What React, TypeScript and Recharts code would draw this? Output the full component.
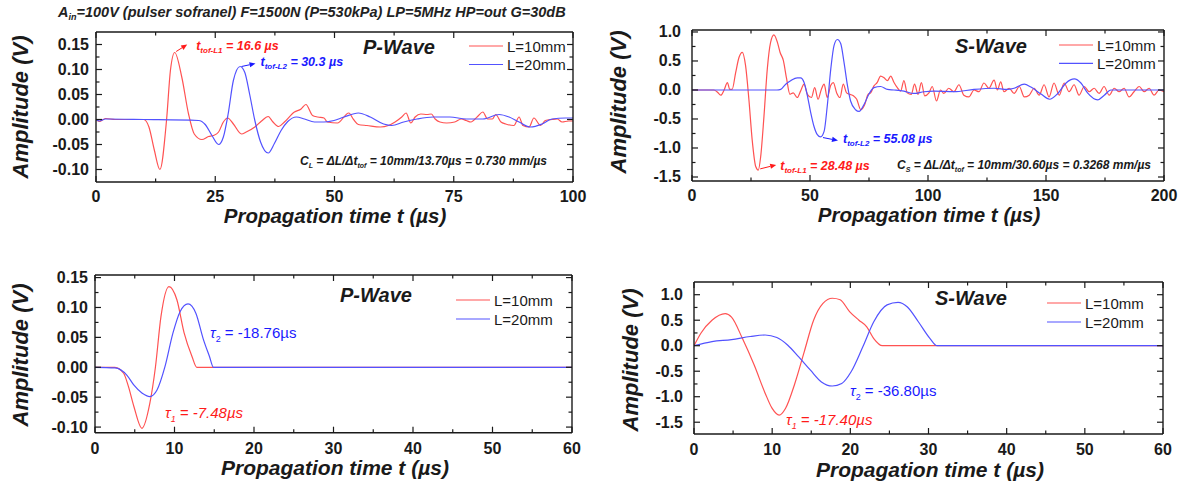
import React from 'react';
import { LineChart, Line, XAxis, YAxis, ReferenceDot } from 'recharts';

type Pt = [number, number];

// --- P-wave, measured signals (0-100 µs) ---
const pMeas10: Pt[] = [
  [0, 0], [0.7, -0.004], [2, 0.002], [4, 0], [10, 0], [11.1, -0.015], [12.2, -0.06], [13.4, -0.1],
  [14.8, 0], [15.6, 0.098], [16.5, 0.134], [18, 0.084], [19.4, 0.011], [20.6, -0.029], [22.2, -0.04],
  [23.6, -0.034], [24.6, -0.032], [25.7, -0.025], [26.7, -0.005], [27.6, 0.003], [28.8, -0.009],
  [30.5, -0.029], [31.5, -0.025], [33.3, -0.015], [34.7, -0.003], [36.1, 0.006], [37.1, -0.005],
  [38.3, -0.014], [39.5, -0.005], [41.6, 0.015], [43, 0.021], [44, 0.03], [45.4, 0.008], [46.5, 0.005],
  [47.8, 0.003], [48.5, -0.005], [50.6, -0.007], [53, 0.013], [54, 0], [55, -0.01], [56.8, -0.012],
  [59.6, -0.015], [61.3, -0.012], [62.7, -0.005], [64.1, 0.005], [65, 0.013], [66, -0.007], [66.9, 0.005],
  [68.1, 0.011], [69.4, 0.01], [70.3, 0.011], [71.1, 0.001], [72.1, -0.005], [73.5, -0.007], [75.2, -0.005],
  [76.6, 0.001], [77.6, -0.002], [78.6, -0.005], [80, 0.006], [81.1, 0.015], [82.1, 0.001], [83.1, 0.001],
  [83.8, 0.01], [84.9, -0.005], [85.9, -0.009], [87.6, -0.012], [88.7, 0.005], [89.5, -0.012], [90.8, -0.015],
  [91.8, 0.003], [93.2, -0.012], [94.2, -0.002], [95.6, 0], [96.7, 0.001], [97.7, -0.005], [99.1, -0.003],
  [100, -0.003],
];
const pMeas20: Pt[] = [
  [0, 0], [0.7, -0.003], [2, 0.001], [10, 0], [21.5, -0.002], [22.9, -0.01], [24.3, -0.032], [25.7, -0.05],
  [26.7, -0.035], [27.7, 0.011], [28.8, 0.078], [30.2, 0.106], [31.2, 0.094], [32.2, 0.051], [33.3, -0.002],
  [34.5, -0.045], [36.1, -0.067], [37.4, -0.048], [38.8, -0.022], [40.2, -0.004], [42, 0.005], [43.7, 0.001],
  [45.8, -0.005], [47.8, -0.005], [49.9, -0.002], [52, 0.005], [55, 0.013], [57.5, 0.005], [60.3, -0.009],
  [62, -0.012], [64.5, -0.005], [67.3, 0.001], [70.7, 0.005], [74.2, 0.005], [77.6, 0.001], [81.1, 0.001],
  [84.5, 0.01], [86.6, 0.005], [88.7, -0.005], [91.1, -0.015], [93.5, -0.009], [95.6, 0.001], [98.4, 0.003],
  [100, 0.003],
];

// --- S-wave, measured signals (0-200 µs) ---
const sMeas10: Pt[] = [
  [0, 0], [9.3, 0], [10.7, -0.035], [12.2, -0.09], [13.6, 0], [15, 0.128], [16, 0.01], [17, 0.01],
  [18.5, 0.3], [19.9, 0.56], [21.3, 0.65], [22.7, 0.42], [24.1, -0.16], [25.5, -0.86], [27, -1.32],
  [28.1, -1.38], [29.1, -1.15], [30.5, -0.45], [31.9, 0.36], [33.3, 0.82], [34.7, 0.95], [36.2, 0.82],
  [37.3, 0.65], [38.7, 0.51], [40.1, 0.19], [41.5, -0.075], [42.9, -0.05], [44.6, -0.13], [46, -0.02],
  [47.5, 0.1], [48.9, -0.075], [50.6, -0.13], [52, 0.04], [53.4, -0.16], [54.8, 0.01], [56, 0.1],
  [57.3, -0.13], [58.8, 0.08], [59.9, 0.128], [61.3, -0.05], [62.7, -0.13], [64.1, 0.1], [65.5, -0.05],
  [66.9, -0.075], [68.4, -0.1], [69.8, -0.16], [71.5, -0.34], [73.2, -0.25], [74.6, -0.075], [75.7, -0.05],
  [77.1, 0.07], [78.5, 0.13], [79.9, 0.24], [81.4, 0.21], [82.8, 0.16], [84.2, 0.24], [85.6, 0.13],
  [87, 0.04], [88.4, -0.02], [89.8, 0.16], [91.2, -0.05], [92.9, -0.075], [94.3, 0.1], [95.8, -0.075],
  [97.2, 0.128], [98.6, -0.1], [100.4, -0.05], [101.8, 0.06], [103.6, -0.19], [105.3, 0], [106.7, -0.06],
  [108.8, 0.03], [111, -0.03], [113.1, 0.09], [115.2, -0.09], [117.3, -0.12], [119.5, 0], [121.6, -0.03],
  [123.7, 0.12], [125.8, 0.03], [128, 0.17], [129.4, 0], [130.8, 0.14], [132.2, -0.03], [134.4, 0.03],
  [136.5, -0.06], [138.7, 0.06], [140.8, -0.12], [142.9, -0.09], [145, 0.03], [147.1, -0.09], [149.2, 0.09],
  [151.3, -0.12], [153.4, 0.12], [155.6, -0.09], [157.7, 0.12], [159.8, -0.03], [161.9, 0.09], [164, -0.09],
  [166.2, 0.06], [168.3, -0.03], [170.4, 0.03], [172.5, -0.06], [174.6, 0.06], [176.8, -0.09], [178.9, 0.03],
  [181, -0.03], [183.1, 0.03], [185.2, -0.12], [187.3, -0.03], [189.5, 0.06], [191.6, -0.03], [193.7, 0.03],
  [195.8, -0.09], [197.9, 0], [200, -0.03],
];
const sMeas20: Pt[] = [
  [0, 0], [36, 0], [37.6, 0.01], [39.7, 0.1], [41.8, 0.16], [44.6, 0.21], [46, 0.21], [47.5, 0.13],
  [48.9, -0.1], [50.3, -0.39], [51.7, -0.63], [53.1, -0.77], [54.5, -0.81], [56, -0.71], [57.3, -0.28],
  [58.8, 0.36], [60.2, 0.77], [61.6, 0.87], [63, 0.8], [64.4, 0.48], [65.9, 0.07], [67.2, -0.19],
  [69.3, -0.34], [70.8, -0.37], [72.9, -0.25], [75, -0.07], [77.1, 0.04], [79.9, 0.06], [82.8, 0.01],
  [85.6, 0], [89.8, -0.02], [94, -0.06], [98.3, -0.03], [102.5, -0.02], [111, -0.03], [119.5, 0.01],
  [128, 0.03], [133.6, 0.01], [136.5, 0.03], [140.8, 0.1], [143.6, 0.05], [147.9, -0.07], [151.5, -0.16],
  [155, -0.06], [158.5, 0.12], [162, 0.19], [164.8, 0.12], [167.6, -0.05], [171.9, -0.17], [174.7, -0.09],
  [177.5, 0], [183.1, 0], [190.2, 0], [200, 0],
];

// --- modelled pulses (0-60 µs) ---
const pModel10: Pt[] = [
  [0, 0], [2.5, 0], [3.6, -0.01], [4.2, -0.032], [4.9, -0.066], [5.9, -0.102], [6.9, -0.06], [7.6, 0],
  [8.3, 0.085], [9.3, 0.135], [10.3, 0.113], [11.2, 0.058], [12.2, 0.018], [12.8, 0], [60, 0],
];
const pModel20: Pt[] = [
  [0, 0], [2.5, -0.001], [4, -0.013], [4.9, -0.03], [5.9, -0.043], [6.9, -0.049], [7.8, -0.038],
  [8.8, 0.001], [9.8, 0.057], [10.7, 0.093], [11.7, 0.106], [12.7, 0.09], [13.6, 0.048], [14.4, 0.018],
  [14.9, 0], [60, 0],
];
const sModel10: Pt[] = [
  [0, 0], [0.9, 0.25], [2.3, 0.5], [4, 0.63], [4.8, 0.56], [6.2, 0.14], [7.7, -0.38], [9.1, -0.93],
  [10, -1.23], [10.9, -1.36], [11.7, -1.23], [12.9, -0.74], [14.1, -0.12], [15.3, 0.5], [16.5, 0.83],
  [17.7, 0.93], [18.7, 0.9], [19.9, 0.67], [21.1, 0.5], [22.1, 0.37], [23, 0.14], [24.1, 0], [60, 0],
];
const sModel20: Pt[] = [
  [0, 0], [2.3, 0.08], [4.8, 0.12], [7.2, 0.18], [9.1, 0.21], [10.6, 0.16], [12, 0.01], [13.4, -0.22],
  [14.9, -0.48], [16.3, -0.71], [17.7, -0.79], [18.9, -0.74], [20.1, -0.51], [21.6, -0.02], [23, 0.47],
  [24.7, 0.8], [26.1, 0.85], [27.3, 0.76], [28.7, 0.47], [30.2, 0.14], [31.1, 0], [60, 0],
];

// tick values
const x100Major = [0, 25, 50, 75, 100];
const x100Minor = [12.5, 37.5, 62.5, 87.5];
const x200Major = [0, 50, 100, 150, 200];
const x200Minor = [25, 75, 125, 175];
const x60Major = [0, 10, 20, 30, 40, 50, 60];
const x60Minor = [5, 15, 25, 35, 45, 55];
const yPMajor = [-0.1, -0.05, 0, 0.05, 0.1, 0.15];
const yPMinor = [-0.075, -0.025, 0.025, 0.075, 0.125];
const ySMajor = [-1.5, -1, -0.5, 0, 0.5, 1];
const ySMinor = [-1.25, -0.75, -0.25, 0.25, 0.75];

const legendNames = ['L=10mm', 'L=20mm'];

const FONT = '"Liberation Sans", Arial, sans-serif';
const RED = '#ff5252';
const BLUE = '#5252ff';
const RED_TXT = '#ff1a1a';
const BLUE_TXT = '#1a1aff';
const INK = '#1a1a1a';

const toRows = (pts: Pt[]) => pts.map(([t, v]) => ({ t, v }));

type Side = 'bottom' | 'top' | 'left' | 'right';

// inward tick marks (major/minor) plus the label for majors
const makeTick = (side: Side, majors: number[], digits: number, labelOffset = 0) => (props: any) => {
  const { x, y, payload } = props;
  const v = payload.value as number;
  const major = majors.some((m) => Math.abs(m - v) < 1e-9);
  const len = major ? 6 : 3.5;
  let line: React.ReactNode = null;
  if (side === 'bottom') line = <line x1={x} x2={x} y1={y} y2={y - len} />;
  if (side === 'top') line = <line x1={x} x2={x} y1={y} y2={y + len} />;
  if (side === 'left') line = <line x1={x} x2={x + len} y1={y} y2={y} />;
  if (side === 'right') line = <line x1={x} x2={x - len} y1={y} y2={y} />;
  return (
    <g stroke={INK} strokeWidth={1.2}>
      {line}
      {major && side === 'bottom' && (
        <text x={x} y={y + labelOffset} textAnchor="middle" stroke="none" fill={INK}
          fontFamily={FONT} fontWeight="bold" fontSize={16}>{v.toFixed(digits)}</text>
      )}
      {major && side === 'left' && (
        <text x={x - labelOffset} y={y + 5.5} textAnchor="end" stroke="none" fill={INK}
          fontFamily={FONT} fontWeight="bold" fontSize={16}>{v.toFixed(digits)}</text>
      )}
    </g>
  );
};

const Arrow = ({ x1, y1, x2, y2, color }: { x1: number; y1: number; x2: number; y2: number; color: string }) => {
  const a = Math.atan2(y2 - y1, x2 - x1);
  const h = 6;
  const w = 2.6;
  const bx = x2 - h * Math.cos(a);
  const by = y2 - h * Math.sin(a);
  const px = -Math.sin(a) * w;
  const py = Math.cos(a) * w;
  return (
    <g>
      <line x1={x1} y1={y1} x2={bx} y2={by} stroke={color} strokeWidth={1} />
      <polygon points={`${x2},${y2} ${bx + px},${by + py} ${bx - px},${by - py}`} fill={color} />
    </g>
  );
};

interface TofOpts {
  ax: number; ay: number; bx: number; by: number; tx: number; ty: number;
  color: string; sub: string; value: string;
}

const tofShape = (o: TofOpts) => (props: any) => {
  const { cx, cy } = props;
  return (
    <g>
      <Arrow x1={cx + o.ax} y1={cy + o.ay} x2={cx + o.bx} y2={cy + o.by} color={o.color} />
      <text x={cx + o.tx} y={cy + o.ty} fill={o.color} fontFamily={FONT} fontWeight="bold"
        fontStyle="italic" fontSize={12.5}>
        t<tspan fontSize={8} dy={3}>{o.sub}</tspan><tspan dy={-3}>{' = ' + o.value}</tspan>
      </text>
    </g>
  );
};

interface PanelProps {
  left: number; top: number; width: number; height: number;
  // plot box edges, in the panel's own pixels
  box: { top: number; right: number; bottom: number; left: number };
  xDomain: [number, number]; yDomain: [number, number];
  xMajor: number[]; xMinor: number[]; yMajor: number[]; yMinor: number[];
  yDigits: number; xLabelOffset: number; yLabelGap: number;
  red: Pt[]; blue: Pt[];
  title: string; titleX: number; titleY: number;
  legendX: number; legendY: [number, number];
  yTitleX: number; yTitleY: number; xTitleX: number; xTitleY: number; xTitleSize: number;
  children?: React.ReactNode;
}

const axisLine = { stroke: INK, strokeWidth: 1.4 };

function Panel(p: PanelProps) {
  const xt = [...p.xMajor, ...p.xMinor].sort((a, b) => a - b);
  const yt = [...p.yMajor, ...p.yMinor].sort((a, b) => a - b);
  // each axis takes 1px, so the margins are the plot box minus that pixel
  const margin = {
    top: p.box.top - 1,
    bottom: p.height - p.box.bottom - 1,
    left: p.box.left - 1,
    right: p.width - p.box.right - 1,
  };
  return (
    <div style={{ position: 'absolute', left: p.left, top: p.top }}>
      <LineChart width={p.width} height={p.height} margin={margin}>
        <XAxis xAxisId="b" dataKey="t" type="number" domain={p.xDomain} allowDataOverflow ticks={xt}
          interval={0} height={1} tickSize={0} tickMargin={0} tickLine={false} axisLine={axisLine}
          tick={makeTick('bottom', p.xMajor, 0, p.xLabelOffset)} />
        <XAxis xAxisId="t" orientation="top" dataKey="t" type="number" domain={p.xDomain} allowDataOverflow
          ticks={xt} interval={0} height={1} tickSize={0} tickMargin={0} tickLine={false} axisLine={axisLine}
          tick={makeTick('top', p.xMajor, 0)} />
        <YAxis yAxisId="l" type="number" domain={p.yDomain} allowDataOverflow ticks={yt} interval={0}
          width={1} tickSize={0} tickMargin={0} tickLine={false} axisLine={axisLine}
          tick={makeTick('left', p.yMajor, p.yDigits, p.yLabelGap)} />
        <YAxis yAxisId="r" orientation="right" type="number" domain={p.yDomain} allowDataOverflow ticks={yt}
          interval={0} width={1} tickSize={0} tickMargin={0} tickLine={false} axisLine={axisLine}
          tick={makeTick('right', p.yMajor, p.yDigits)} />
        <Line xAxisId="b" yAxisId="l" data={toRows(p.red)} dataKey="v" type="monotone" stroke={RED}
          strokeWidth={1.2} dot={false} isAnimationActive={false} />
        <Line xAxisId="b" yAxisId="l" data={toRows(p.blue)} dataKey="v" type="monotone" stroke={BLUE}
          strokeWidth={1.2} dot={false} isAnimationActive={false} />
        {p.children}
        <text x={p.titleX} y={p.titleY} fontFamily={FONT} fontWeight="bold" fontStyle="italic"
          fontSize={20} fill={INK}>{p.title}</text>
        {legendNames.map((name, i) => (
          <g key={name}>
            <line x1={p.legendX} x2={p.legendX + 34} y1={p.legendY[i]} y2={p.legendY[i]}
              stroke={i === 0 ? RED : BLUE} strokeWidth={1.2} />
            <text x={p.legendX + 38} y={p.legendY[i] + 5.5} fontFamily={FONT} fontSize={15}
              fill={INK}>{name}</text>
          </g>
        ))}
        <text x={p.yTitleX} y={p.yTitleY} transform={`rotate(-90 ${p.yTitleX} ${p.yTitleY})`}
          textAnchor="middle" dominantBaseline="central" fontFamily={FONT} fontWeight="bold"
          fontStyle="italic" fontSize={22} fill={INK}>Amplitude (V)</text>
        <text x={p.xTitleX} y={p.xTitleY} textAnchor="middle" fontFamily={FONT} fontWeight="bold"
          fontStyle="italic" fontSize={p.xTitleSize} fill={INK}>Propagation time t (µs)</text>
      </LineChart>
    </div>
  );
}

const noteStyle = { fontFamily: FONT, fontWeight: 'bold' as const, fontStyle: 'italic' as const, fontSize: 12 };

export default function App() {
  return (
    <div style={{ position: 'absolute', left: 0, top: 0, width: 1187, height: 488, background: '#fff' }}>
      <Panel left={0} top={0} width={593} height={240}
        box={{ top: 32, right: 573, bottom: 182, left: 96 }}
        xDomain={[0, 100]} yDomain={[-0.125, 0.175]}
        xMajor={x100Major} xMinor={x100Minor} yMajor={yPMajor} yMinor={yPMinor}
        yDigits={2} xLabelOffset={19.5} yLabelGap={7} red={pMeas10} blue={pMeas20}
        title="P-Wave" titleX={363} titleY={54} legendX={469} legendY={[46, 64.5]}
        yTitleX={20} yTitleY={107} xTitleX={335} xTitleY={222.5} xTitleSize={20.5}>
        <ReferenceDot xAxisId="b" yAxisId="l" x={16.6} y={0.134} r={0} isFront
          shape={tofShape({ ax: 1, ay: -1, bx: 12, by: -8, tx: 21, ty: -3, color: RED_TXT, sub: 'tof-L1', value: '16.6 µs' })} />
        <ReferenceDot xAxisId="b" yAxisId="l" x={30.3} y={0.106} r={0} isFront
          shape={tofShape({ ax: 1, ay: 0, bx: 15, by: -3, tx: 20, ty: -1, color: BLUE_TXT, sub: 'tof-L2', value: '30.3 µs' })} />
        <text x={58} y={17} fontFamily={FONT} fontWeight="bold" fontStyle="italic" fontSize={14.5} fill="#222">
          A<tspan fontSize={9} dy={3}>in</tspan><tspan dy={-3}>=100V (pulser sofranel) F=1500N (P=530kPa) LP=5MHz HP=out G=30dB</tspan>
        </text>
        <text x={300} y={165} {...noteStyle} fill={INK}>
          C<tspan fontSize={7} dy={3}>L</tspan><tspan dy={-3}> = ΔL/Δt</tspan><tspan fontSize={7} dy={3}>tof</tspan><tspan dy={-3}> = 10mm/13.70µs = 0.730 mm/µs</tspan>
        </text>
      </Panel>

      <Panel left={593} top={0} width={594} height={240}
        box={{ top: 30, right: 571, bottom: 181, left: 99 }}
        xDomain={[0, 200]} yDomain={[-1.569, 1.034]}
        xMajor={x200Major} xMinor={x200Minor} yMajor={ySMajor} yMinor={ySMinor}
        yDigits={1} xLabelOffset={19.5} yLabelGap={11} red={sMeas10} blue={sMeas20}
        title="S-Wave" titleX={362} titleY={53} legendX={466} legendY={[45, 63.3]}
        yTitleX={25} yTitleY={102} xTitleX={336} xTitleY={221.5} xTitleSize={20.5}>
        <ReferenceDot xAxisId="b" yAxisId="l" x={28.48} y={-1.36} r={0} isFront
          shape={tofShape({ ax: 1, ay: 0, bx: 17, by: -4, tx: 21, ty: 1, color: RED_TXT, sub: 'tof-L1', value: '28.48 µs' })} />
        <ReferenceDot xAxisId="b" yAxisId="l" x={55.08} y={-0.82} r={0} isFront
          shape={tofShape({ ax: 1, ay: 0, bx: 16, by: 3, tx: 21, ty: 5, color: BLUE_TXT, sub: 'tof-L2', value: '55.08 µs' })} />
        <text x={304} y={169} {...noteStyle} fill={INK}>
          C<tspan fontSize={7} dy={3}>S</tspan><tspan dy={-3}> = ΔL/Δt</tspan><tspan fontSize={7} dy={3}>tof</tspan><tspan dy={-3}> = 10mm/30.60µs = 0.3268 mm/µs</tspan>
        </text>
      </Panel>

      <Panel left={0} top={240} width={593} height={248}
        box={{ top: 35, right: 572, bottom: 192.7, left: 95 }}
        xDomain={[0, 60]} yDomain={[-0.1094, 0.1543]}
        xMajor={x60Major} xMinor={x60Minor} yMajor={yPMajor} yMinor={yPMinor}
        yDigits={2} xLabelOffset={21} yLabelGap={7} red={pModel10} blue={pModel20}
        title="P-Wave" titleX={340} titleY={62} legendX={456} legendY={[60, 79]}
        yTitleX={20} yTitleY={115} xTitleX={335} xTitleY={235} xTitleSize={21}>
        <text x={210} y={98} fontFamily={FONT} fontSize={15} fill={BLUE_TXT}>
          <tspan fontStyle="italic">τ</tspan><tspan fontSize={9} dy={4}>2</tspan><tspan dy={-4}> = -18.76µs</tspan>
        </text>
        <text x={165} y={178} fontFamily={FONT} fontStyle="italic" fontSize={15} fill={RED_TXT}>
          τ<tspan fontSize={9} dy={4}>1</tspan><tspan dy={-4}> = -7.48µs</tspan>
        </text>
      </Panel>

      <Panel left={593} top={240} width={594} height={248}
        box={{ top: 42, right: 570, bottom: 194, left: 101 }}
        xDomain={[0, 60]} yDomain={[-1.731, 1.249]}
        xMajor={x60Major} xMinor={x60Minor} yMajor={ySMajor} yMinor={ySMinor}
        yDigits={1} xLabelOffset={21} yLabelGap={11} red={sModel10} blue={sModel20}
        title="S-Wave" titleX={342} titleY={65} legendX={454} legendY={[63, 82]}
        yTitleX={37} yTitleY={120} xTitleX={337} xTitleY={237} xTitleSize={21}>
        <text x={257} y={156} fontFamily={FONT} fontSize={15} fill={BLUE_TXT}>
          <tspan fontStyle="italic">τ</tspan><tspan fontSize={9} dy={4}>2</tspan><tspan dy={-4}> = -36.80µs</tspan>
        </text>
        <text x={193} y={185} fontFamily={FONT} fontStyle="italic" fontSize={15} fill={RED_TXT}>
          τ<tspan fontSize={9} dy={4}>1</tspan><tspan dy={-4}> = -17.40µs</tspan>
        </text>
      </Panel>
    </div>
  );
}
